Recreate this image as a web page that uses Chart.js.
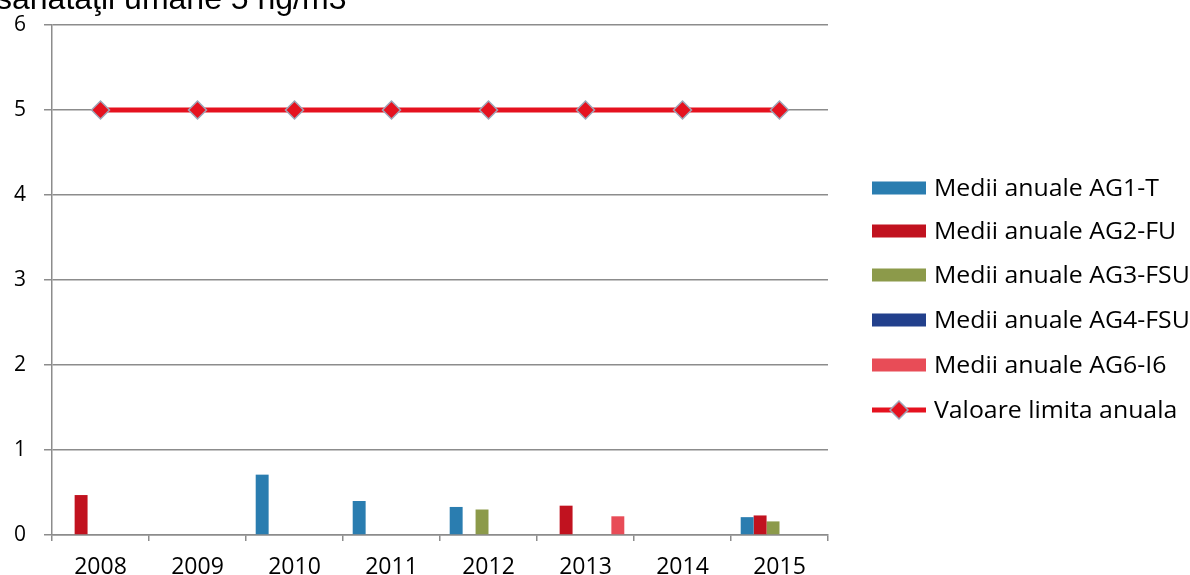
<!DOCTYPE html>
<html>
<head>
<meta charset="utf-8">
<script src="https://cdn.jsdelivr.net/npm/chart.js@4.4.1/dist/chart.umd.min.js"></script>
<style>
html,body{margin:0;padding:0;background:#fff;}
#wrap{position:relative;width:1190px;height:575px;}
</style>
</head>
<body>
<div id="wrap"><canvas id="c" width="1190" height="575"></canvas></div>
<script>
const years = ['2008','2009','2010','2011','2012','2013','2014','2015'];
const ag1T   = [null, null, 0.71, 0.40, 0.33, null, null, 0.21];
const ag2FU  = [0.47, null, null, null, null, 0.345, null, 0.23];
const ag3FSU = [null, null, null, null, 0.30, null, null, 0.16];
const ag4FSU = [null, null, null, null, null, null, null, null];
const ag5    = [null, null, null, null, null, null, null, null];
const ag6I6  = [null, null, null, null, null, 0.22, null, null];
const limitaAnuala = [5, 5, 5, 5, 5, 5, 5, 5];
const yTicks = [0, 1, 2, 3, 4, 5, 6];
const titleText = 'sănătăţii umane 5 ng/m3';

const titlePlugin = {
  id: 'cutTitle',
  afterDraw(chart) {
    const ctx = chart.ctx;
    ctx.save();
    ctx.font = '32px "Liberation Sans"';
    ctx.fillStyle = '#000';
    ctx.textBaseline = 'alphabetic';
    ctx.fillText(titleText, -4, 9);
    ctx.restore();
  }
};

const legendPlugin = {
  id: 'customLegend',
  afterDraw(chart) {
    const ctx = chart.ctx;
    ctx.save();
    const rows = [188, 231, 275, 320, 365, 410];
    const items = chart.data.datasets.filter(ds => !ds.hideLegend)
      .sort((a, b) => a.legendOrder - b.legendOrder);
    items.forEach((ds, r) => {
      const y = rows[r];
      const bx = 872, bw = 54;
      if (ds.type === 'line') {
        ctx.strokeStyle = ds.borderColor;
        ctx.lineWidth = 5;
        ctx.beginPath();
        ctx.moveTo(bx, y); ctx.lineTo(bx + bw, y);
        ctx.stroke();
        ctx.beginPath();
        const s = 9;
        const cx = bx + bw / 2;
        ctx.moveTo(cx, y - s);
        ctx.lineTo(cx + s, y);
        ctx.lineTo(cx, y + s);
        ctx.lineTo(cx - s, y);
        ctx.closePath();
        ctx.fillStyle = ds.pointBackgroundColor;
        ctx.fill();
        ctx.lineWidth = 1.5;
        ctx.strokeStyle = ds.pointBorderColor;
        ctx.stroke();
      } else {
        ctx.fillStyle = ds.backgroundColor;
        ctx.fillRect(bx, y - 6.5, bw, 13);
      }
      ctx.save();
      ctx.translate(934, y);
      ctx.scale(1.08, 1);
      ctx.font = '23px "Open Sans"';
      ctx.textBaseline = 'middle';
      ctx.fillStyle = '#000';
      ctx.fillText(ds.label, 0, 1);
      ctx.restore();
    });
    ctx.restore();
  }
};

new Chart(document.getElementById('c'), {
  data: {
    labels: years,
    datasets: [
      { type: 'line', label: 'Valoare limita anuala', data: limitaAnuala, borderColor: '#e5121f', borderWidth: 5,
        pointStyle: 'rectRot', pointRadius: 9, pointBackgroundColor: '#e5121f', pointBorderColor: '#9ea6b8', pointBorderWidth: 1.5,
        order: 0, legendOrder: 6 },
      { type: 'bar', label: 'Medii anuale AG1-T', data: ag1T, backgroundColor: '#2a7db0', order: 1, legendOrder: 1 },
      { type: 'bar', label: 'Medii anuale AG2-FU', data: ag2FU, backgroundColor: '#c1121f', order: 1, legendOrder: 2 },
      { type: 'bar', label: 'Medii anuale AG3-FSU', data: ag3FSU, backgroundColor: '#8c9a4a', order: 1, legendOrder: 3 },
      { type: 'bar', label: 'Medii anuale AG4-FSU', data: ag4FSU, backgroundColor: '#22408c', order: 1, legendOrder: 4 },
      { type: 'bar', label: 'AG5', data: ag5, backgroundColor: '#888888', order: 1, hideLegend: true },
      { type: 'bar', label: 'Medii anuale AG6-I6', data: ag6I6, backgroundColor: '#e84c57', order: 1, legendOrder: 5 }
    ]
  },
  options: {
    responsive: false,
    animation: false,
    devicePixelRatio: 1,
    layout: { padding: { left: 0, right: 362, top: 25, bottom: 0 } },
    datasets: { bar: { categoryPercentage: 0.8, barPercentage: 1.0 } },
    plugins: { legend: { display: false }, tooltip: { enabled: false } },
    scales: {
      x: {
        offset: true,
        grid: { display: true, drawOnChartArea: false, offset: true, color: '#8c8c8c', lineWidth: 1.5, tickLength: 6 },
        border: { display: true, color: '#8c8c8c', width: 1.5 },
        ticks: { color: '#000', font: { family: 'Open Sans', size: 23 }, padding: 13 },
        afterFit(s) { s.height = 40; }
      },
      y: {
        min: 0, max: 6,
        afterBuildTicks(s) { s.ticks = yTicks.map(v => ({ value: v })); },
        grid: { color: '#8c8c8c', lineWidth: 1.5, tickLength: 8 },
        border: { display: true, color: '#8c8c8c', width: 1.5 },
        ticks: { color: '#000', font: { family: 'Open Sans', size: 21 }, padding: 18 },
        afterFit(s) { s.width = 52; s.paddingTop = 0; s.paddingBottom = 0; }
      }
    }
  },
  plugins: [titlePlugin, legendPlugin]
});
</script>
</body>
</html>
